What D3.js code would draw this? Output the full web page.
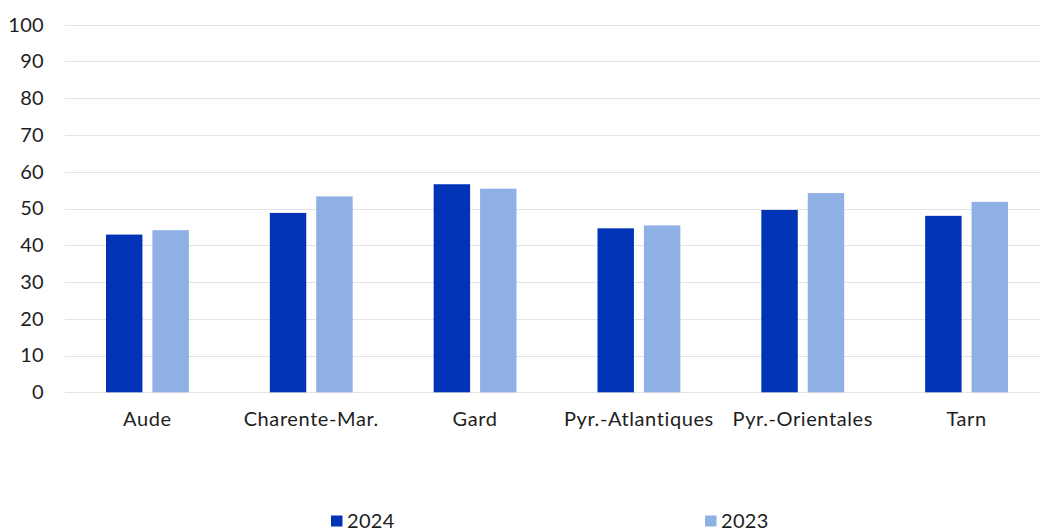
<!DOCTYPE html>
<html><head><meta charset="utf-8">
<script src="https://cdn.jsdelivr.net/npm/d3@7"></script>
<style>body{margin:0;background:#fff}svg{display:block;font-family:Lato,"Noto Sans",sans-serif}</style>
</head><body>
<svg id="c" width="1040" height="531"></svg>
<script>
const categories = ["Aude","Charente-Mar.","Gard","Pyr.-Atlantiques","Pyr.-Orientales","Tarn"];
const series = ["2024","2023"];
const values2024 = [42.9, 48.8, 56.6, 44.6, 49.6, 48.0];
const values2023 = [44.1, 53.3, 55.4, 45.4, 54.2, 51.8];
const yTicks = [0,10,20,30,40,50,60,70,80,90,100];
const colors = ["#0033B5","#8EB0E4"];

const FONT = "Lato,'Noto Sans',sans-serif";
const svg = d3.select("#c");
const x = d3.scaleBand().domain(categories).range([65.5, 1048.5]).paddingInner(0).paddingOuter(0);
const y = d3.scaleLinear().domain([0,100]).range([392.3, 24.7]);
const xs = d3.scaleBand().domain(series).range([40.5, x.bandwidth()-40.5]).paddingInner(0.215);

// grid
svg.append("g").selectAll("line").data(yTicks).join("line")
  .attr("x1",65).attr("x2",1040)
  .attr("y1",d=>Math.round(y(d))+0.5).attr("y2",d=>Math.round(y(d))+0.5)
  .attr("stroke","#e3e3e3").attr("stroke-width",1);

// y axis labels
const yAxis = d3.axisLeft(y).tickValues(yTicks).tickSize(0).tickPadding(0);
const ga = svg.append("g").attr("transform","translate(44,0)").call(yAxis);
ga.select(".domain").remove();
ga.selectAll("text").attr("font-size",20).attr("fill","#1e1e1e").attr("font-family",FONT).attr("letter-spacing","0.3px");

// bars
const data = categories.map((c,i)=>({c, v:[values2024[i], values2023[i]]}));
const g = svg.append("g");
data.forEach(d=>{
  series.forEach((s,j)=>{
    g.append("rect")
      .attr("x", x(d.c)+xs(s))
      .attr("width", xs.bandwidth())
      .attr("y", y(d.v[j]))
      .attr("height", y(0)-y(d.v[j]))
      .attr("fill", colors[j]);
  });
});

// x labels
const xAxis = d3.axisBottom(x).tickSize(0).tickPadding(0);
const gx = svg.append("g").attr("transform","translate(0,412)").call(xAxis);
gx.select(".domain").remove();
gx.selectAll("text").attr("font-size",20).attr("fill","#1e1e1e").attr("font-family",FONT).attr("letter-spacing","0.6px");

// legend
const legX = [331, 705];
const lg = svg.append("g");
series.forEach((s,i)=>{
  lg.append("rect").attr("x",legX[i]).attr("y",515.5).attr("width",11.5).attr("height",11).attr("fill",colors[i]);
  lg.append("text").attr("x",legX[i]+16).attr("y",528).attr("font-size",20).attr("letter-spacing","0.3px").attr("fill","#1e1e1e").text(s);
});
</script>
</body></html>
